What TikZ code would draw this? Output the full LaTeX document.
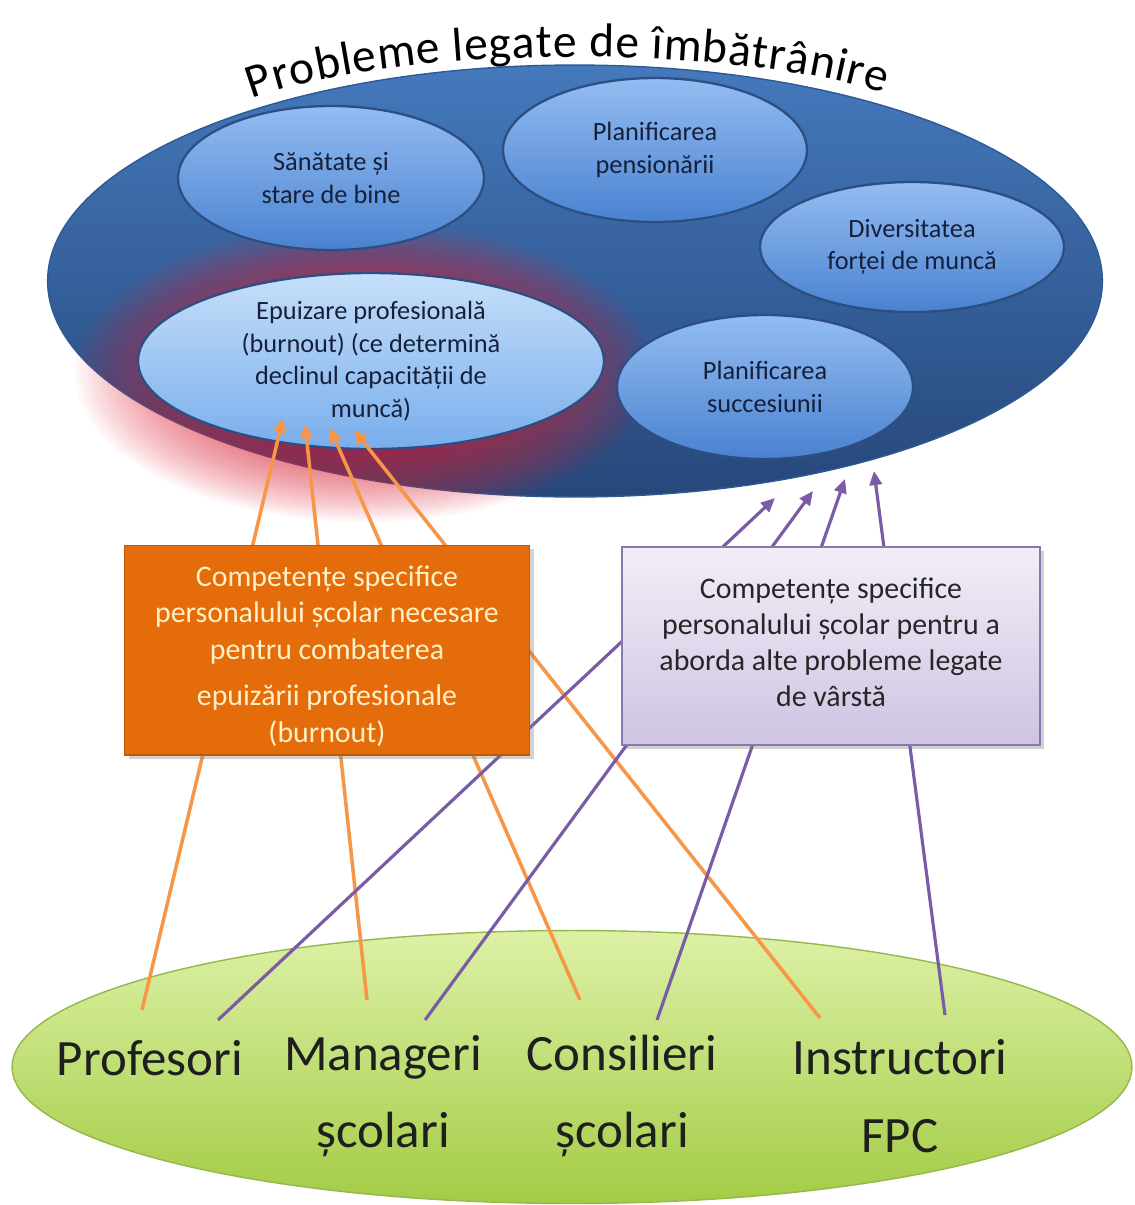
\documentclass[tikz,border=0pt]{standalone}
\usepackage{fontspec}
\setmainfont{Carlito}
\usetikzlibrary{shapes.geometric,arrows.meta,decorations.text,shadows}
\definecolor{bigtop}{HTML}{4479BC}
\definecolor{bigbot}{HTML}{26477A}
\definecolor{bigedge}{HTML}{2E5A94}
\definecolor{bubtop}{HTML}{93BDF2}
\definecolor{bubbot}{HTML}{4A82D0}
\definecolor{bubedge}{HTML}{2D4E82}
\definecolor{burntop}{HTML}{C6DFF9}
\definecolor{burnbot}{HTML}{78AEEC}
\definecolor{bubtext}{HTML}{16203A}
\definecolor{glowred}{HTML}{E0283C}
\definecolor{grtop}{HTML}{DDF1A6}
\definecolor{grbot}{HTML}{A3CC45}
\definecolor{gredge}{HTML}{95B84E}
\definecolor{orfill}{HTML}{E46C0A}
\definecolor{oredge}{HTML}{C05A08}
\definecolor{ortext}{HTML}{FFF0C8}
\definecolor{pulite}{HTML}{F2EEF7}
\definecolor{pudark}{HTML}{CFC3E2}
\definecolor{puedge}{HTML}{8C76AE}
\definecolor{orline}{HTML}{F79646}
\definecolor{puline}{HTML}{7A5BA6}
\begin{document}
\begin{tikzpicture}[x=0.02cm,y=0.02cm,
  bigell/.style={ellipse, draw=bigedge, line width=0.8pt, top color=bigtop, bottom color=bigbot, inner sep=0pt},
  bubble/.style={ellipse, draw=bubedge, line width=1.3pt, top color=bubtop, bottom color=bubbot, inner sep=0pt, align=center, text=bubtext, font=\fontsize{15}{18.5}\selectfont},
  burnbubble/.style={bubble, top color=burntop, bottom color=burnbot},
  greenell/.style={ellipse, draw=gredge, line width=0.8pt, top color=grtop, bottom color=grbot, inner sep=0pt},
  orbox/.style={rectangle, draw=oredge, line width=0.6pt, fill=orfill, drop shadow={shadow xshift=2.5pt, shadow yshift=-2.5pt, opacity=0.35}},
  pubox/.style={rectangle, draw=puedge, line width=0.8pt, top color=pulite, bottom color=pudark, drop shadow={shadow xshift=2.5pt, shadow yshift=-2.5pt, opacity=0.35}},
  grouplbl/.style={align=center, text=black!88, font=\fontsize{29}{44}\selectfont},
  orconn/.style={draw=orline, line width=2pt, -{Triangle[length=8pt,width=7pt]}},
  puconn/.style={draw=puline, line width=1.8pt, -{Triangle[length=8pt,width=7pt]}}
]
\fill[white] (0,0) rectangle (1135,-1205);
\useasboundingbox (0,0) rectangle (1135,-1205);

% title along an arc
\path[decorate, decoration={text along path, text align=fit to path,
  text={|\fontsize{27}{30}\selectfont|Probleme legate de îmbătrânire}}]
  (252,-99) .. controls (400,-44) and (730,-44) .. (884,-93);

% big ellipse
\node[bigell, minimum width=21.1cm, minimum height=8.64cm] (aging) at (575,-281) {};

% red glow around burnout
\foreach \s in {1.0,0.985,...,0.54}
  \fill[glowred, fill opacity=0.032] (365,-372) ellipse [x radius=290*\s, y radius=150*\s];

% inner bubbles
\node[bubble, minimum width=6.12cm, minimum height=2.88cm] (health) at (331,-178) {Sănătate și\\stare de bine};
\node[bubble, minimum width=6.08cm, minimum height=2.88cm] (pension) at (655,-150) {Planificarea\\pensionării};
\node[bubble, minimum width=6.08cm, minimum height=2.6cm] (divers) at (912,-247) {Diversitatea\\forței de muncă};
\node[bubble, minimum width=5.92cm, minimum height=2.88cm] (succes) at (765,-387) {Planificarea\\succesiunii};
\node[burnbubble, minimum width=9.32cm, minimum height=3.52cm] (burn) at (371,-361) {Epuizare profesională\\(burnout) (ce determină\\declinul capacității de\\muncă)};

% green ellipse
\node[greenell, minimum width=22.4cm, minimum height=5.46cm] (staff) at (572,-1067) {};

% connector ends
\coordinate (prof-o) at (142,-1010);
\coordinate (mgr-o) at (367,-1000);
\coordinate (cons-o) at (580,-1000);
\coordinate (inst-o) at (820,-1018);
\coordinate (prof-p) at (218,-1020);
\coordinate (mgr-p) at (425,-1020);
\coordinate (cons-p) at (657,-1020);
\coordinate (inst-p) at (945,-1015);
\coordinate (burn-1) at (283,-418);
\coordinate (burn-2) at (305,-424);
\coordinate (burn-3) at (330,-428);
\coordinate (burn-4) at (354,-430);
\coordinate (age-1) at (775,-498);
\coordinate (age-2) at (813,-491);
\coordinate (age-3) at (845,-479);
\coordinate (age-4) at (874,-471);

% connectors
\draw[orconn] (prof-o) -- (burn-1);
\draw[orconn] (mgr-o) -- (burn-2);
\draw[orconn] (cons-o) -- (burn-3);
\draw[orconn] (inst-o) -- (burn-4);
\draw[puconn] (prof-p) -- (age-1);
\draw[puconn] (mgr-p) -- (age-2);
\draw[puconn] (cons-p) -- (age-3);
\draw[puconn] (inst-p) -- (age-4);

% competence boxes
\node[orbox, minimum width=8.1cm, minimum height=4.2cm] (burncomp) at (327,-650) {};
\node[text=ortext, align=center, font=\fontsize{17}{21}\selectfont] (burncomptext) at (327,-656) {Competențe specifice\\personalului școlar necesare\\pentru combaterea\\[5pt]epuizării profesionale\\(burnout)};
\node[pubox, minimum width=8.36cm, minimum height=3.96cm] (agecomp) at (831,-646) {};
\node[text=black!85, align=center, font=\fontsize{17}{20.5}\selectfont] (agecomptext) at (831,-642) {Competențe specifice\\personalului școlar pentru a\\aborda alte probleme legate\\de vârstă};

% staff groups
\node[grouplbl] (prof) at (150,-1058) {Profesori};
\node[grouplbl] (mgr) at (383,-1096) {Manageri\\școlari};
\node[grouplbl] (cons) at (622,-1096) {Consilieri\\școlari};
\node[grouplbl] (inst) at (900,-1096) {Instructori\\FPC};
\end{tikzpicture}
\end{document}
